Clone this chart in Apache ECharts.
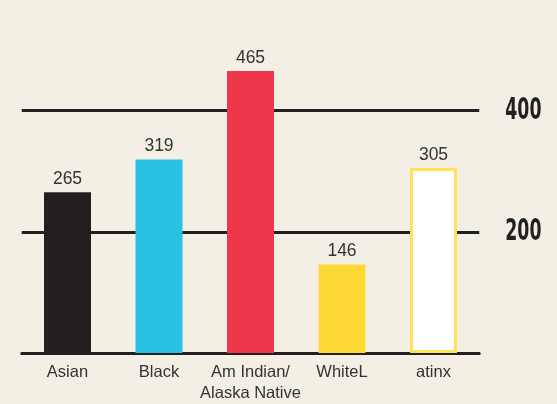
<!DOCTYPE html>
<html><head><meta charset="utf-8">
<script src="https://cdn.jsdelivr.net/npm/echarts@6/dist/echarts.min.js"></script>
<style>html,body{margin:0;padding:0;background:#f4efe4;overflow:hidden;}#c{width:557px;height:404px;}</style>
</head><body><div id="c"></div>
<script>
const categories = ['Asian', 'Black', 'Am Indian/\nAlaska Native', 'WhiteL', 'atinx'];
const values = [265, 319, 465, 146, 305];
const yTicks = [200, 400];
const barColors = ['#231f20', '#29c2e2', '#ef374b', '#fed835', '#ffffff'];
const borderColors = [null, null, null, null, '#fee257'];

const chart = echarts.init(document.getElementById('c'), null, {renderer: 'canvas'});
chart.setOption({
  backgroundColor: '#f4efe4',
  animation: false,
  grid: {left: 21.75, right: 77.75, top: 110.5, bottom: 42.5, containLabel: false},
  xAxis: {
    type: 'category',
    data: categories,
    axisLine: {lineStyle: {color: '#231f20', width: 3}},
    axisTick: {show: false},
    axisLabel: {interval: 0, color: '#333333', fontSize: 16.5, fontFamily: 'Liberation Sans, Arial, sans-serif', margin: 9, lineHeight: 21}
  },
  yAxis: {
    type: 'value', position: 'right', min: 0, max: 400, interval: 200,
    axisLine: {show: false}, axisTick: {show: false},
    splitLine: {lineStyle: {color: '#231f20', width: 3}},
    axisLabel: {show: false}
  },
  series: [{
    type: 'bar',
    barWidth: 47,
    clip: false,
    data: values.map((v, i) => ({
      value: v,
      itemStyle: borderColors[i]
        ? {color: barColors[i], borderColor: borderColors[i], borderWidth: 3}
        : {color: barColors[i]}
    })),
    label: {show: true, position: 'top', distance: 4, color: '#333333', fontSize: 17.5,
      fontFamily: 'Liberation Sans, Arial, sans-serif'}
  }]
});
// condensed tick labels placed through the axis scale
const rightEdge = chart.convertToPixel({xAxisIndex: 0}, categories[categories.length - 1]) + 45.75;
chart.setOption({
  graphic: yTicks.map(t => ({
    type: 'text',
    x: rightEdge + 26,
    y: chart.convertToPixel({yAxisIndex: 0}, t),
    scaleX: 0.56,
    style: {
      text: String(t), fill: '#231f20', fontSize: 31, fontWeight: 'bold',
      fontFamily: 'DejaVu Sans, sans-serif', textAlign: 'left', textVerticalAlign: 'middle'
    }
  }))
});
</script></body></html>
